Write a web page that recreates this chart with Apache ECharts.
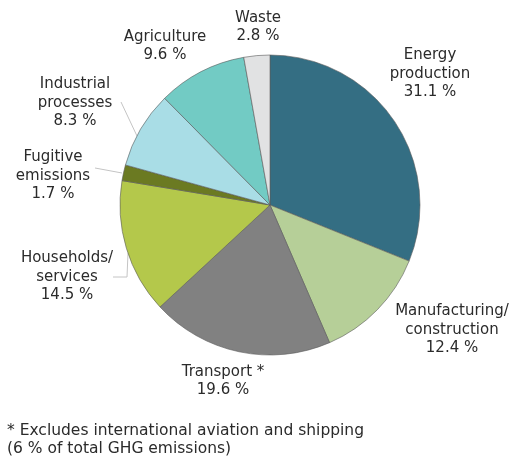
<!DOCTYPE html>
<html>
<head>
<meta charset="utf-8">
<script src="https://cdn.jsdelivr.net/npm/echarts@6/dist/echarts.min.js"></script>
<style>
  html, body { margin: 0; padding: 0; background: #fff; }
  #chart { width: 510px; height: 456px; }
</style>
</head>
<body>
<div id="chart"></div>
<script>
// Greenhouse gas emissions by sector (share of total, %)
const sectors = ['Energy\nproduction', 'Manufacturing/\nconstruction', 'Transport *', 'Households/\nservices',
                 'Fugitive\nemissions', 'Industrial\nprocesses', 'Agriculture', 'Waste'];
const shares = [31.1, 12.4, 19.6, 14.5, 1.7, 8.3, 9.6, 2.8];
const sliceColors = ['#346e83', '#b6cf98', '#818181', '#b4c84b', '#6b7a22', '#a9dde6', '#72cbc4', '#e1e2e3'];
// label placement (centre of each text block)
const labelAnchors = [[430, 74], [452, 330], [223, 381], [67, 277], [53, 176], [75, 103], [165, 46], [258, 27]];
// leader lines for the labels on the left side (null = none)
const leaderLines = [null, null, null,
  [[128, 253], [127, 277], [113, 277]],
  [[122, 173], [95, 168]],
  [[137, 136], [121, 102]],
  null, null];

const chart = echarts.init(document.getElementById('chart'));
const font = 'DejaVu Sans, Verdana, sans-serif';

chart.setOption({
  animation: false,
  graphic: [{
    type: 'text', left: 7, top: 422,
    style: {
      text: '* Excludes international aviation and shipping\n(6 % of total GHG emissions)',
      font: '15.5px ' + font, fill: '#2b2b2b', lineHeight: 18
    }
  }],
  series: [{
    type: 'pie',
    center: [270, 205],
    radius: [0, 150],
    startAngle: 90,
    clockwise: true,
    itemStyle: { borderColor: '#5a5a5a', borderWidth: 0.6 },
    label: {
      show: true,
      formatter: p => p.name + '\n' + p.value.toFixed(1) + ' %',
      fontFamily: font, fontSize: 15, color: '#2b2b2b',
      lineHeight: 18.5, align: 'center', overflow: 'none'
    },
    labelLine: { show: true, lineStyle: { color: '#c4c4c4', width: 1 } },
    labelLayout: p => {
      const a = labelAnchors[p.dataIndex];
      const out = { x: a[0], y: a[1], align: 'center', verticalAlign: 'middle', width: 200 };
      if (leaderLines[p.dataIndex]) out.labelLinePoints = leaderLines[p.dataIndex];
      return out;
    },
    data: sectors.map((s, i) => ({
      name: s, value: shares[i],
      itemStyle: { color: sliceColors[i] },
      labelLine: { show: !!leaderLines[i] }
    }))
  }]
});
</script>
</body>
</html>
